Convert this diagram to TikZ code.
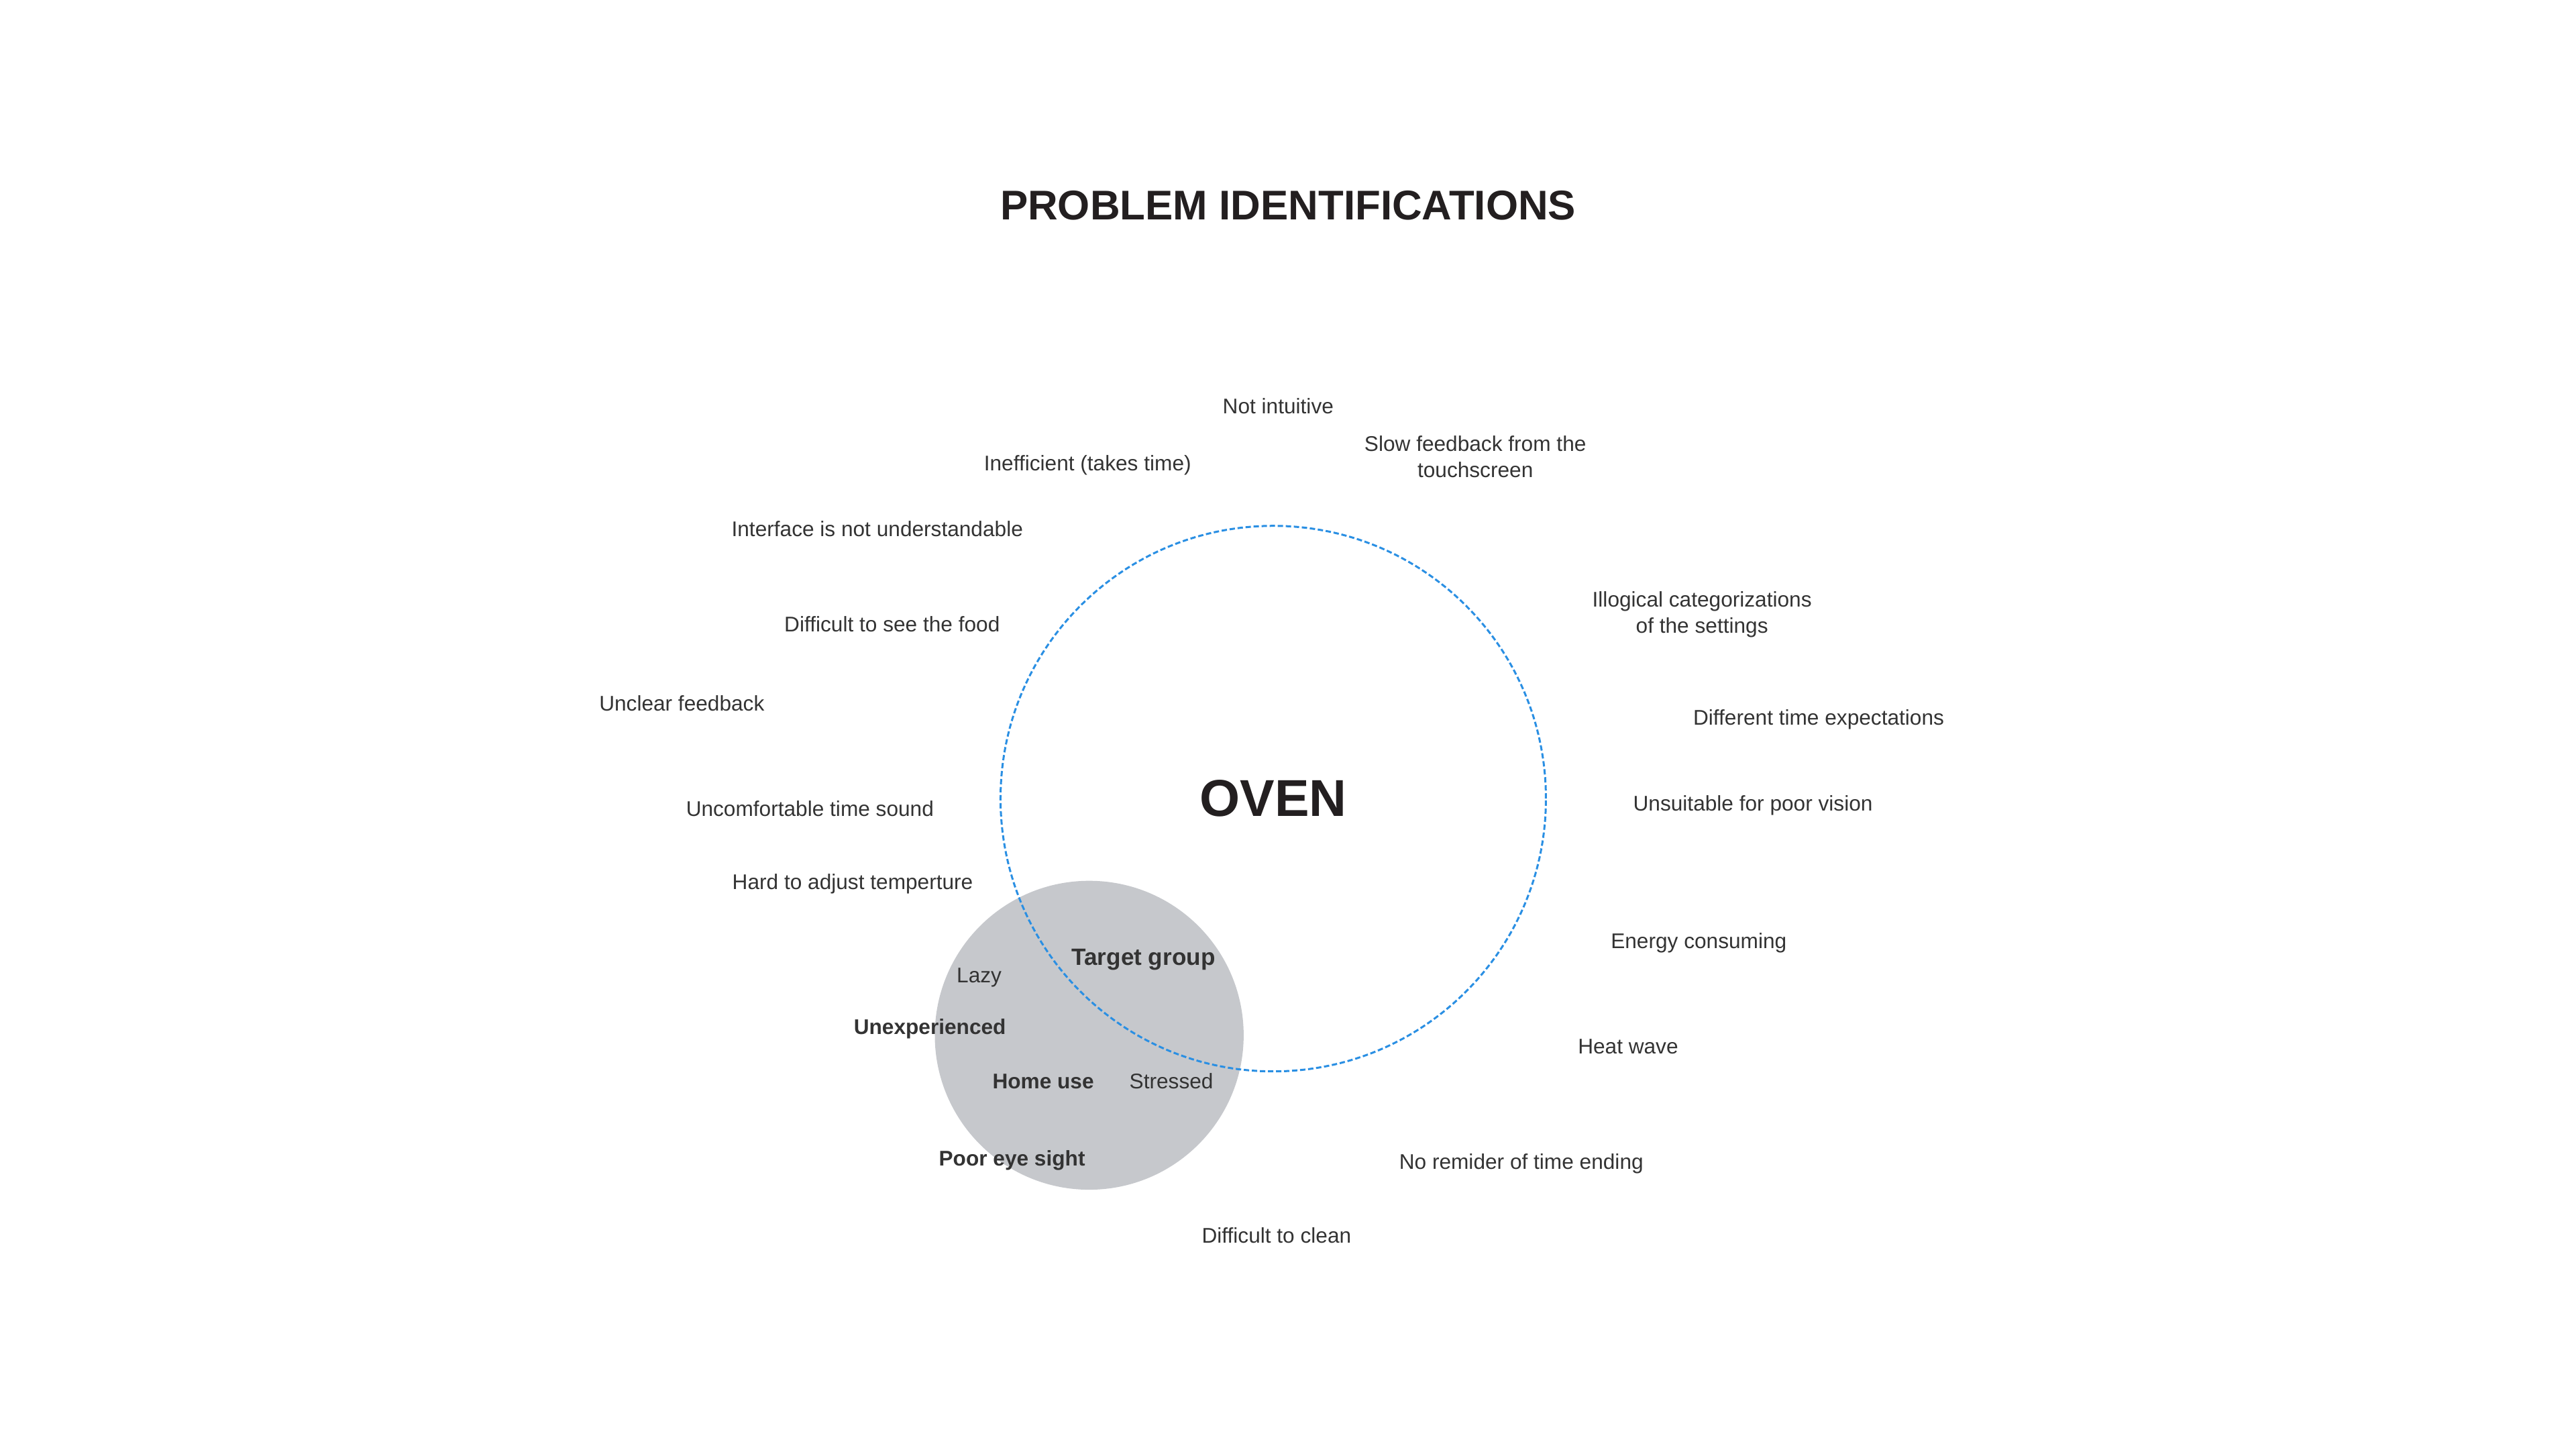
\documentclass[tikz,border=0pt]{standalone}
\usepackage{xcolor}
\usepackage{fontspec}
\setmainfont{Liberation Sans}
\definecolor{inkdark}{HTML}{231F20}
\definecolor{inklabel}{HTML}{333333}
\definecolor{ovenblue}{HTML}{2A8FE3}
\definecolor{groupgrey}{HTML}{C6C8CC}

\begin{document}
\begin{tikzpicture}[x=0.02449cm, y=-0.02449cm,
  every node/.style={inner sep=0pt, text=inklabel, font=\fontsize{9}{11.1}\selectfont},
  problem/.style={align=center},
  trait/.style={font=\fontsize{9}{11.1}\selectfont\bfseries},
  heading/.style={text=inkdark, font=\fontsize{17.6}{20}\selectfont\bfseries}]
  \useasboundingbox (0,0) rectangle (1568,882);
  % target group and oven circles
  \node[circle, fill=groupgrey, minimum size=4.604cm] (group) at (663,630) {};
  \node[circle, draw=ovenblue, line width=0.03cm, dash pattern=on 0.08cm off 0.04cm, minimum size=8.13cm] (oven) at (775,486) {};
  \node[heading] (title) at (784,125) {PROBLEM IDENTIFICATIONS};
  \node[text=inkdark, font=\fontsize{22}{24}\selectfont\bfseries] (ovenlbl) at (775,486) {OVEN};
  % problems around the oven
  \node[problem] (intuitive) at (778,247) {Not intuitive};
  \node[problem] (slowfb) at (898,278) {Slow feedback from the\\touchscreen};
  \node[problem] (inefficient) at (662,283) {Inefficient (takes time)};
  \node[problem] (interface) at (534,322) {Interface is not understandable};
  \node[problem] (illogical) at (1036,374) {Illogical categorizations\\of the settings};
  \node[problem] (seefood) at (543,380) {Difficult to see the food};
  \node[problem] (unclear) at (415,428) {Unclear feedback};
  \node[problem] (expect) at (1107,438) {Different time expectations};
  \node[problem] (sound) at (493,492) {Uncomfortable time sound};
  \node[problem] (vision) at (1067,490) {Unsuitable for poor vision};
  \node[problem] (temp) at (519,538) {Hard to adjust temperture};
  \node[problem] (energy) at (1034,574) {Energy consuming};
  \node[problem] (heat) at (991,637) {Heat wave};
  \node[problem] (reminder) at (926,708) {No remider of time ending};
  \node[problem] (clean) at (777,752) {Difficult to clean};
  % target group traits
  \node[font=\fontsize{10}{12}\selectfont\bfseries] (target) at (696,584) {Target group};
  \node (lazy) at (596,595) {Lazy};
  \node[trait] (unexp) at (566,626) {Unexperienced};
  \node[trait] (home) at (635,658) {Home use};
  \node (stressed) at (713,658) {Stressed};
  \node[trait] (eyesight) at (616,706) {Poor eye sight};
\end{tikzpicture}
\end{document}
